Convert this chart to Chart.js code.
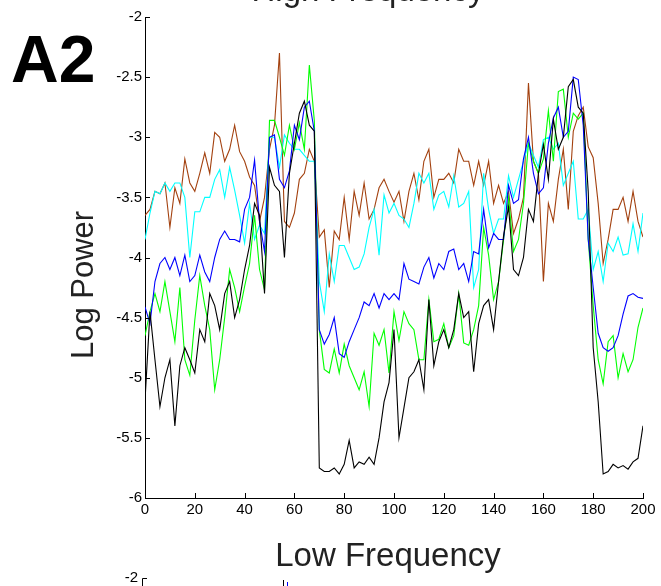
<!DOCTYPE html>
<html>
<head>
<meta charset="utf-8">
<script src="https://cdn.jsdelivr.net/npm/chart.js@4.4.0/dist/chart.umd.min.js"></script>
<style>
  html, body { margin: 0; padding: 0; background: #fff; }
  #wrap { width: 661px; height: 586px; }
</style>
</head>
<body>
<div id="wrap"><canvas id="powerChart" width="661" height="586"></canvas></div>
<script>
// frequency bins (x values)
const freqs = [0, 2, 4, 6, 8, 10, 12, 14, 16, 18, 20, 22, 24, 26, 28, 30, 32, 34, 36, 38,
  40, 42, 44, 46, 48, 50, 52, 54, 56, 58, 60, 62, 64, 66, 68, 70, 72, 74, 76, 78,
  80, 82, 84, 86, 88, 90, 92, 94, 96, 98, 100, 102, 104, 106, 108, 110, 112, 114, 116, 118,
  120, 122, 124, 126, 128, 130, 132, 134, 136, 138, 140, 142, 144, 146, 148, 150, 152, 154, 156, 158,
  160, 162, 164, 166, 168, 170, 172, 174, 176, 178, 180, 182, 184, 186, 188, 190, 192, 194, 196, 198, 200];

// log power per series
const blackPower = [-5.19, -4.45, -4.85, -5.24, -5.0, -4.85, -5.4, -4.9, -4.75, -4.85,
  -4.96, -4.6, -4.7, -4.3, -4.4, -4.6, -4.3, -4.2, -4.5, -4.35,
  -4.1, -3.9, -3.55, -3.65, -4.3, -3.25, -3.4, -3.45, -4.0, -3.3,
  -3.05, -2.8, -2.7, -2.9, -2.95, -5.75, -5.78, -5.78, -5.75, -5.8,
  -5.72, -5.52, -5.75, -5.7, -5.72, -5.66, -5.72, -5.5, -5.2, -5.04,
  -4.6, -5.5, -5.25, -5.0, -4.95, -4.85, -5.1, -4.35, -4.9, -4.7,
  -4.6, -4.75, -4.6, -4.3, -4.5, -4.45, -4.95, -4.55, -4.4, -4.35,
  -4.6, -4.2, -3.82, -3.58, -4.1, -4.15, -4.0, -3.6, -3.7, -3.3,
  -3.06, -3.35, -2.85, -3.1, -3.0, -2.58, -2.52, -2.75, -2.8, -3.45,
  -4.75, -5.2, -5.8, -5.78, -5.72, -5.75, -5.73, -5.76, -5.7, -5.67,
  -5.4];

const greenPower = [-4.65, -4.45, -4.3, -4.45, -4.2, -4.45, -4.7, -4.25, -4.85, -4.98,
  -4.52, -4.15, -4.4, -4.6, -5.1, -4.85, -4.5, -4.1, -4.25, -4.45,
  -4.24, -4.05, -3.65, -4.1, -4.27, -2.86, -2.86, -3.0, -3.15, -2.9,
  -3.1, -2.88, -3.1, -2.4, -2.86, -4.6, -4.93, -4.96, -4.76, -4.96,
  -4.72, -4.9, -5.0, -5.1, -4.95, -5.24, -4.63, -4.73, -4.6, -4.96,
  -4.45, -4.69, -4.45, -4.55, -4.6, -4.85, -4.85, -4.35, -4.7, -4.68,
  -4.55, -4.75, -4.65, -4.3, -4.71, -4.73, -4.6, -4.4, -3.75, -3.98,
  -4.35, -4.2, -3.85, -3.5, -3.95, -3.85, -3.55, -3.05, -3.2, -3.3,
  -3.18, -2.78, -3.2, -2.62, -2.6, -3.0, -2.8, -2.85, -2.8, -3.85,
  -4.4, -4.85, -5.05, -4.7, -4.65, -5.0, -4.8, -4.95, -4.85, -4.58,
  -4.42];

const bluePower = [-4.41, -4.55, -4.2, -4.05, -4.0, -4.1, -4.0, -4.15, -3.98, -4.2,
  -4.15, -3.98, -4.12, -4.2, -4.0, -3.85, -3.78, -3.85, -3.85, -3.87,
  -3.6, -3.5, -3.19, -3.7, -3.95, -3.0, -2.98, -3.35, -3.42, -3.28,
  -2.9, -3.02, -2.75, -2.7, -2.95, -4.6, -4.72, -4.64, -4.5, -4.8,
  -4.83, -4.7, -4.6, -4.5, -4.37, -4.4, -4.3, -4.42, -4.3, -4.35,
  -4.3, -4.35, -4.05, -4.18, -4.2, -4.22, -4.08, -4.0, -4.17, -4.05,
  -4.1, -3.95, -3.93, -4.1, -4.05, -4.2, -3.95, -3.97, -3.6, -3.92,
  -3.8, -3.85, -3.85, -3.4, -3.55, -3.52, -3.18, -3.0, -3.3, -3.47,
  -3.42, -3.05, -2.84, -2.75, -3.0, -2.95, -2.5, -2.52, -2.9, -3.85,
  -4.25, -4.63, -4.75, -4.78, -4.75, -4.65, -4.47, -4.32, -4.3, -4.33,
  -4.34];

const cyanPower = [-3.85, -3.63, -3.45, -3.47, -3.38, -3.45, -3.38, -3.38, -3.5, -4.0,
  -3.62, -3.62, -3.5, -3.5, -3.35, -3.27, -3.5, -3.25, -3.44, -3.65,
  -3.88, -3.55, -3.85, -3.73, -3.8, -3.0, -3.0, -3.25, -2.98, -3.05,
  -3.1, -3.1, -3.15, -3.2, -3.2, -4.2, -4.45, -3.97, -4.2, -3.9,
  -3.9, -4.0, -4.1, -4.08, -3.97, -3.75, -3.6, -3.98, -3.48, -3.63,
  -3.55, -3.65, -3.68, -3.75, -3.55, -3.3, -3.38, -3.3, -3.6, -3.48,
  -3.45, -3.58, -3.32, -3.58, -3.55, -3.45, -4.25, -4.1, -3.3, -3.6,
  -3.8, -3.68, -3.68, -3.32, -3.5, -3.35, -3.2, -3.05, -3.15, -3.25,
  -3.02, -3.0, -3.1, -3.05, -3.4, -3.3, -3.2, -3.68, -3.68, -3.6,
  -4.1, -3.95, -4.2, -3.88, -3.95, -3.83, -3.98, -3.97, -3.72, -3.95,
  -3.63];

const brownPower = [-3.65, -3.6, -3.45, -3.47, -3.38, -3.75, -3.42, -3.55, -3.18, -3.38,
  -3.45, -3.3, -3.13, -3.3, -2.96, -3.0, -3.2, -3.1, -2.9, -3.12,
  -3.2, -3.33, -3.4, -3.7, -3.5, -3.1, -2.9, -2.3, -3.7, -3.75,
  -3.63, -3.35, -3.3, -3.1, -3.2, -3.83, -3.77, -4.25, -3.78, -3.85,
  -3.5, -3.85, -3.45, -3.65, -3.38, -3.68, -3.6, -3.42, -3.35, -3.45,
  -3.54, -3.45, -3.7, -3.45, -3.3, -3.52, -3.2, -3.1, -3.5, -3.35,
  -3.35, -3.3, -3.38, -3.1, -3.2, -3.2, -3.4, -3.2, -3.4, -3.2,
  -3.55, -3.4, -3.55, -3.45, -3.8, -3.68, -3.5, -2.55, -3.2, -3.3,
  -4.2, -3.55, -3.7, -3.35, -3.1, -3.6, -2.95, -2.82, -2.75, -3.08,
  -3.17, -3.55, -4.05, -3.85, -3.6, -3.6, -3.5, -3.7, -3.45, -3.7,
  -3.83];

const yTicks = [-2, -2.5, -3, -3.5, -4, -4.5, -5, -5.5, -6];
const xTicks = [0, 20, 40, 60, 80, 100, 120, 140, 160, 180, 200];

function toPoints(vals) {
    return vals.map((v, i) => ({ x: freqs[i], y: v }));
}

function makeSet(label, vals, color) {
    return {
        label: label,
        data: toPoints(vals),
        borderColor: color,
        backgroundColor: color,
        borderWidth: 1.1,
        pointRadius: 0,
        tension: 0,
        fill: false
    };
}

const tickFont = { family: "'Liberation Sans Narrow', 'Liberation Sans', Arial, sans-serif", size: 15 };

// inward tick marks + all the loose text around the axes
const decorPlugin = {
    id: 'decor',
    afterDraw(chart) {
        const ctx = chart.ctx;
        const xs = chart.scales.x;
        const ys = chart.scales.y;
        const area = chart.chartArea;
        ctx.save();
        ctx.strokeStyle = '#000';
        ctx.lineWidth = 1;
        xTicks.forEach(t => {
            const px = Math.round(xs.getPixelForValue(t)) + 0.5;
            ctx.beginPath();
            ctx.moveTo(px, area.bottom);
            ctx.lineTo(px, area.bottom - 5);
            ctx.stroke();
        });
        yTicks.forEach(t => {
            const py = Math.round(ys.getPixelForValue(t)) + 0.5;
            ctx.beginPath();
            ctx.moveTo(area.left, py);
            ctx.lineTo(area.left + 5, py);
            ctx.stroke();
        });

        ctx.fillStyle = '#000';
        ctx.font = "bold 66px 'Liberation Sans', Arial, sans-serif";
        ctx.textAlign = 'left';
        ctx.textBaseline = 'alphabetic';
        ctx.fillText('A2', 11, 82);

        ctx.fillStyle = '#222';
        ctx.font = "33px 'Liberation Sans', Arial, sans-serif";
        ctx.textAlign = 'center';
        ctx.fillText('Low Frequency', 388, 566);
        ctx.fillText('High Frequency', 368, 1);

        ctx.save();
        ctx.translate(93, 285);
        ctx.rotate(-Math.PI / 2);
        ctx.font = "31px 'Liberation Sans', Arial, sans-serif";
        ctx.fillText('Log Power', 0, 0);
        ctx.restore();

        // top of the next panel below
        ctx.fillStyle = '#000';
        ctx.font = tickFont.size + "px 'Liberation Sans Narrow', 'Liberation Sans', Arial, sans-serif";
        ctx.textAlign = 'right';
        ctx.textBaseline = 'middle';
        ctx.fillText('-2', 138, 578);
        ctx.beginPath();
        ctx.moveTo(142.5, 586);
        ctx.lineTo(142.5, 578.5);
        ctx.lineTo(147, 578.5);
        ctx.stroke();
        ctx.beginPath();
        ctx.moveTo(283.5, 580);
        ctx.lineTo(283.5, 586);
        ctx.stroke();
        ctx.strokeStyle = '#0000ff';
        ctx.beginPath();
        ctx.moveTo(287.5, 582);
        ctx.lineTo(287.5, 586);
        ctx.stroke();
        ctx.restore();
    }
};

const ctx = document.getElementById('powerChart').getContext('2d');
new Chart(ctx, {
    type: 'line',
    data: {
        datasets: [
            makeSet('black', blackPower, '#000000'),
            makeSet('blue', bluePower, '#0000ff'),
            makeSet('green', greenPower, '#00ff00'),
            makeSet('cyan', cyanPower, '#00ffff'),
            makeSet('brown', brownPower, '#a3410f')
        ]
    },
    options: {
        responsive: false,
        animation: false,
        maintainAspectRatio: false,
        layout: { padding: { left: 0, top: 17, right: 18, bottom: 0 } },
        plugins: {
            legend: { display: false },
            tooltip: { enabled: false }
        },
        scales: {
            x: {
                type: 'linear',
                min: 0,
                max: 200,
                afterFit: s => { s.height = 88; },
                afterBuildTicks: s => { s.ticks = xTicks.map(v => ({ value: v })); },
                ticks: { color: '#000', font: tickFont, padding: 3, maxRotation: 0 },
                grid: { display: false, drawTicks: false },
                border: { display: true, color: '#000', width: 1 }
            },
            y: {
                type: 'linear',
                min: -6,
                max: -2,
                afterFit: s => { s.width = 145; },
                afterBuildTicks: s => { s.ticks = yTicks.map(v => ({ value: v })); },
                ticks: { color: '#000', font: tickFont, padding: 3, callback: v => String(v) },
                grid: { display: false, drawTicks: false },
                border: { display: true, color: '#000', width: 1 }
            }
        }
    },
    plugins: [decorPlugin]
});
</script>
</body>
</html>
